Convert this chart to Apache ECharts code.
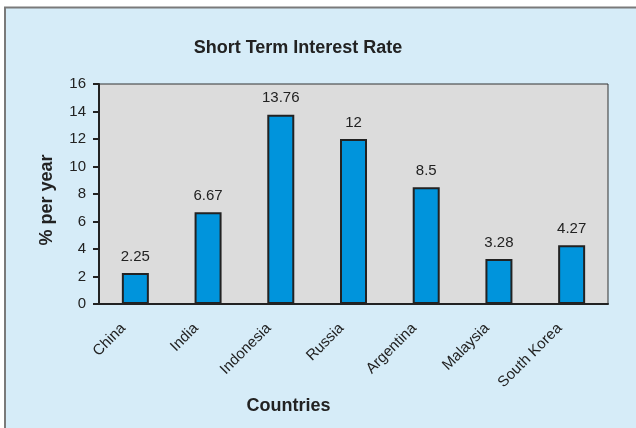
<!DOCTYPE html>
<html><head><meta charset="utf-8">
<script src="https://cdn.jsdelivr.net/npm/echarts@6/dist/echarts.min.js"></script>
<style>html,body{margin:0;padding:0;background:#fff}#c{width:636px;height:428px}</style>
</head><body><div id="c"></div>
<script>
const categories = ['China','India','Indonesia','Russia','Argentina','Malaysia','South Korea'];
const rates = [2.25, 6.67, 13.76, 12, 8.5, 3.28, 4.27];
const yTicks = [0, 2, 4, 6, 8, 10, 12, 14, 16];

const chart = echarts.init(document.getElementById('c'), null, {renderer: 'canvas'});
const font = 'Liberation Sans, Arial, sans-serif';
chart.setOption({
  animation: false,
  graphic: [{
    type: 'rect', z: -10, silent: true,
    shape: {x: 5, y: 7.5, width: 700, height: 500},
    style: {fill: '#d6ecf8', stroke: '#7a7a7a', lineWidth: 2}
  }],
  title: {
    text: 'Short Term Interest Rate', left: 298, top: 39, textAlign: 'center', padding: 0,
    textStyle: {fontFamily: font, fontSize: 18, fontWeight: 'bold', color: '#222'}
  },
  grid: {
    left: 99, right: 28, top: 84, bottom: 124,
    show: true, backgroundColor: '#dcdcdc', borderColor: '#333', borderWidth: 1
  },
  xAxis: {
    type: 'category', data: categories,
    name: 'Countries', nameLocation: 'middle', nameGap: 85,
    nameTextStyle: {fontFamily: font, fontSize: 18, fontWeight: 'bold', color: '#222', padding: [0, 130, 0, 0]},
    axisLine: {lineStyle: {color: '#222', width: 2}},
    axisTick: {show: false},
    axisLabel: {rotate: 45, fontFamily: font, fontSize: 15, color: '#222', margin: 10, interval: 0, padding: [0, 17, 0, 0]}
  },
  yAxis: {
    type: 'value', min: yTicks[0], max: yTicks[yTicks.length - 1], interval: 2,
    name: '% per year', nameLocation: 'middle', nameGap: 43,
    nameTextStyle: {fontFamily: font, fontSize: 18, fontWeight: 'bold', color: '#222', padding: [0, 12, 0, 0]},
    axisLine: {show: true, lineStyle: {color: '#222', width: 2}},
    axisTick: {show: true, length: 6, lineStyle: {color: '#222', width: 2}},
    splitLine: {show: false},
    axisLabel: {fontFamily: font, fontSize: 15, color: '#222', margin: 13}
  },
  series: [{
    type: 'bar', data: rates, barWidth: 27,
    itemStyle: {color: '#0094dc', borderColor: '#222', borderWidth: 2},
    label: {show: true, position: 'top', distance: 9, fontFamily: font, fontSize: 15, color: '#222'}
  }]
});
</script></body></html>
